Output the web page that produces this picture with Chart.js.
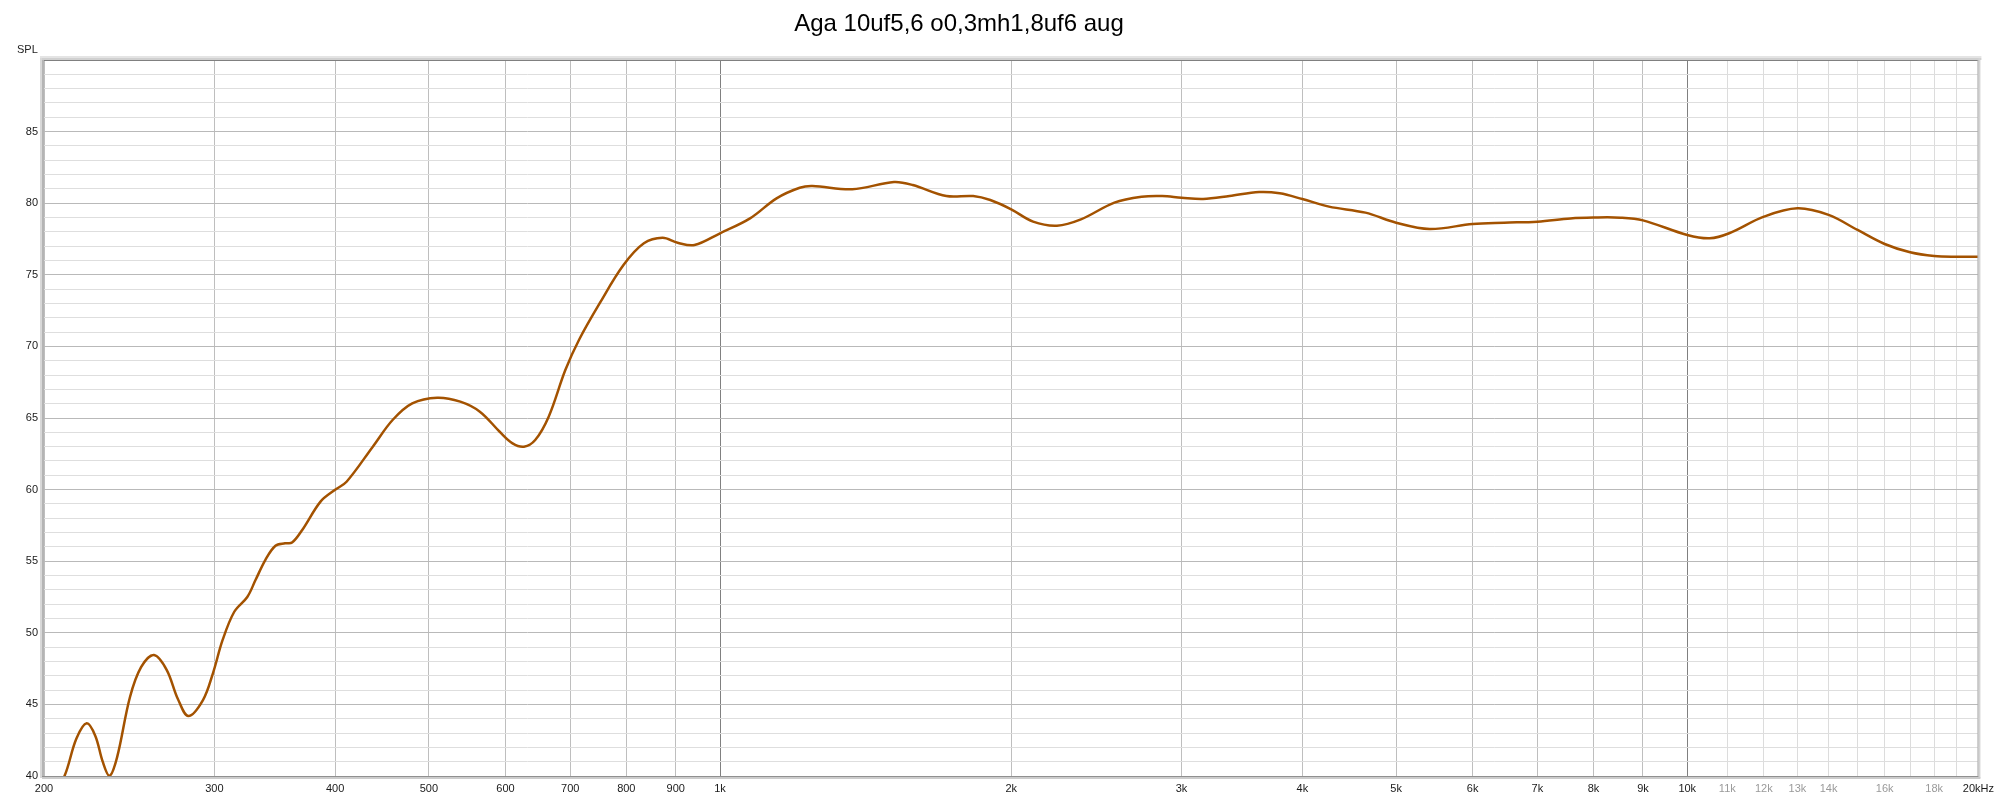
<!DOCTYPE html>
<html>
<head>
<meta charset="utf-8">
<script src="https://cdn.jsdelivr.net/npm/chart.js@4.4.1/dist/chart.umd.min.js"></script>
<style>
  html, body { margin: 0; padding: 0; background: #ffffff; }
  #wrap { width: 2000px; height: 801px; }
</style>
</head>
<body>
<div id="wrap"><canvas id="c" width="2000" height="801"></canvas></div>
<script>
// ---- data ----
const chartTitle = 'Aga 10uf5,6 o0,3mh1,8uf6 aug';
const yAxisTitle = 'SPL';

const freqs = [
  200, 210, 216, 221.4, 226, 230, 233.7, 238, 245.4, 252, 259.9, 267.9, 275, 282,
  292, 299, 306, 314.6, 324.5, 331, 338.7, 347, 355, 361, 370, 386.3, 399.6, 411,
  437.5, 458.6, 480.6, 510, 538.8, 564.5, 591.8, 610.2, 627, 644, 665, 691.9,
  714.7, 750.7, 794.6, 834.2, 872, 904, 941, 1000, 1074, 1144, 1209, 1246, 1370,
  1513, 1582, 1714, 1827, 1903, 2000, 2107, 2230, 2361, 2557, 2728, 2865, 3000,
  3158, 3363, 3609, 3790, 4000, 4262, 4648, 5000, 5416, 6000, 6464, 7000, 7573,
  8000, 8534, 9000, 10000, 10550, 11050, 12000, 13000, 14000, 15000, 16000,
  17000, 18000, 19000, 20000
];
const spl = [
  37.3, 40.0, 42.6, 43.68, 42.8, 41.0, 40.0, 41.3, 45.5, 47.6, 48.45, 47.4, 45.4, 44.19,
  45.3, 47.17, 49.5, 51.47, 52.5, 53.7, 55.08, 56.08, 56.25, 56.3, 57.2, 59.16, 59.97, 60.55,
  63.0, 64.86, 66.02, 66.42, 66.14, 65.44, 64.04, 63.23, 63.0, 63.46, 65.09, 68.35,
  70.45, 73.0, 75.68, 77.2, 77.59, 77.24, 77.08, 77.9, 78.94, 80.34, 81.08, 81.2, 80.97,
  81.48, 81.27, 80.5, 80.5, 80.22, 79.57, 78.71, 78.43, 78.87, 80.04, 80.45, 80.5, 80.38,
  80.29, 80.5, 80.78, 80.69, 80.29, 79.76, 79.34, 78.64, 78.2, 78.55, 78.64, 78.71, 78.94,
  79.0, 78.99, 78.8, 77.78, 77.55, 77.9, 79.06, 79.64, 79.18, 78.13, 77.15,
  76.57, 76.31, 76.26, 76.26
];

const xTickValues = [
  200, 300, 400, 500, 600, 700, 800, 900,
  1000, 2000, 3000, 4000, 5000, 6000, 7000, 8000, 9000,
  10000, 11000, 12000, 13000, 14000, 15000, 16000, 17000, 18000, 19000, 20000
];
const xTickLabels = [
  '200', '300', '400', '500', '600', '700', '800', '900',
  '1k', '2k', '3k', '4k', '5k', '6k', '7k', '8k', '9k',
  '10k', '11k', '12k', '13k', '14k', '', '16k', '', '18k', '', '20kHz'
];
const yMin = 40, yMax = 90;
const yTickLabels = ['40', '45', '50', '55', '60', '65', '70', '75', '80', '85'];

// ---- chart ----
const points = freqs.map((f, i) => ({ x: f, y: spl[i] }));

const framePlugin = {
  id: 'frame',
  afterDraw(chart) {
    const ctx = chart.ctx;
    const a = chart.chartArea;
    ctx.save();
    // top shadow + line
    ctx.fillStyle = '#e4e4e4';
    ctx.fillRect(a.left - 4, a.top - 4, a.right - a.left + 7, 2);
    ctx.fillStyle = '#d0d0d0';
    ctx.fillRect(a.left - 4, a.top - 2, a.right - a.left + 7, 2);
    ctx.fillStyle = '#808080';
    ctx.fillRect(a.left - 1, a.top, a.right - a.left + 1, 1);
    // left thick border
    ctx.fillStyle = '#d8d8d8';
    ctx.fillRect(a.left - 4, a.top - 2, 2, a.bottom - a.top + 4);
    ctx.fillStyle = '#b4b4b4';
    ctx.fillRect(a.left - 2, a.top, 2, a.bottom - a.top + 2);
    // right border
    ctx.fillStyle = '#b0b0b0';
    ctx.fillRect(a.right - 1, a.top, 1, a.bottom - a.top + 2);
    ctx.fillStyle = '#d4d4d4';
    ctx.fillRect(a.right, a.top - 2, 2, a.bottom - a.top + 4);
    // bottom border
    ctx.fillStyle = '#909090';
    ctx.fillRect(a.left - 2, a.bottom, a.right - a.left + 2, 1);
    ctx.fillStyle = '#cccccc';
    ctx.fillRect(a.left - 2, a.bottom + 1, a.right - a.left + 4, 2);

    // title
    ctx.fillStyle = '#000000';
    ctx.font = '24px "Liberation Sans", Arial, sans-serif';
    ctx.textAlign = 'center';
    ctx.textBaseline = 'alphabetic';
    ctx.fillText(chartTitle, 959, 31);
    // y axis title
    ctx.font = '11px "Liberation Sans", Arial, sans-serif';
    ctx.textAlign = 'left';
    ctx.textBaseline = 'middle';
    ctx.fillStyle = '#222222';
    ctx.fillText(yAxisTitle, 17, 50);
    ctx.restore();
  }
};

new Chart(document.getElementById('c'), {
  type: 'scatter',
  data: {
    datasets: [{
      data: points,
      showLine: true,
      borderColor: '#a35200',
      borderWidth: 2.5,
      pointRadius: 0,
      tension: 0.35,
      fill: false
    }]
  },
  options: {
    responsive: false,
    animation: false,
    events: [],
    layout: { padding: { top: 60, right: 21, left: 0, bottom: 0 } },
    plugins: { legend: { display: false }, tooltip: { enabled: false }, title: { display: false } },
    scales: {
      x: {
        type: 'logarithmic',
        min: 200,
        max: 20000,
        afterBuildTicks(scale) {
          scale.ticks = xTickValues.map(v => ({ value: v }));
        },
        afterFit(scale) { scale.height = 25; },
        border: { display: false },
        grid: {
          drawTicks: false,
          lineWidth: 1,
          color(ctx) {
            const v = ctx.tick ? ctx.tick.value : 0;
            if (v === 1000 || v === 10000) return '#808080';
            if (v > 10000 && v < 20000) return '#dcdcdc';
            return '#bebebe';
          }
        },
        ticks: {
          autoSkip: false,
          maxRotation: 0,
          padding: 6,
          font: { family: '"Liberation Sans", Arial, sans-serif', size: 11 },
          color(ctx) {
            const v = ctx.tick ? ctx.tick.value : 0;
            return (v > 10000 && v < 20000) ? '#9a9a9a' : '#1a1a1a';
          },
          callback(value, index) { return xTickLabels[index]; }
        }
      },
      y: {
        type: 'linear',
        min: yMin,
        max: yMax,
        afterBuildTicks(scale) {
          const t = [];
          for (let v = yMin; v <= yMax; v++) t.push({ value: v });
          scale.ticks = t;
        },
        afterFit(scale) { scale.width = 44; },
        border: { display: false },
        grid: {
          drawTicks: false,
          lineWidth: 1,
          color(ctx) {
            const v = ctx.tick ? ctx.tick.value : 0;
            return (v % 5 === 0) ? '#b9b9b9' : '#dedede';
          }
        },
        ticks: {
          autoSkip: false,
          padding: 6,
          font: { family: '"Liberation Sans", Arial, sans-serif', size: 11 },
          color: '#1a1a1a',
          callback(value) {
            const idx = yTickLabels.indexOf(String(value));
            return idx >= 0 ? yTickLabels[idx] : '';
          }
        }
      }
    }
  },
  plugins: [framePlugin]
});
</script>
</body>
</html>
